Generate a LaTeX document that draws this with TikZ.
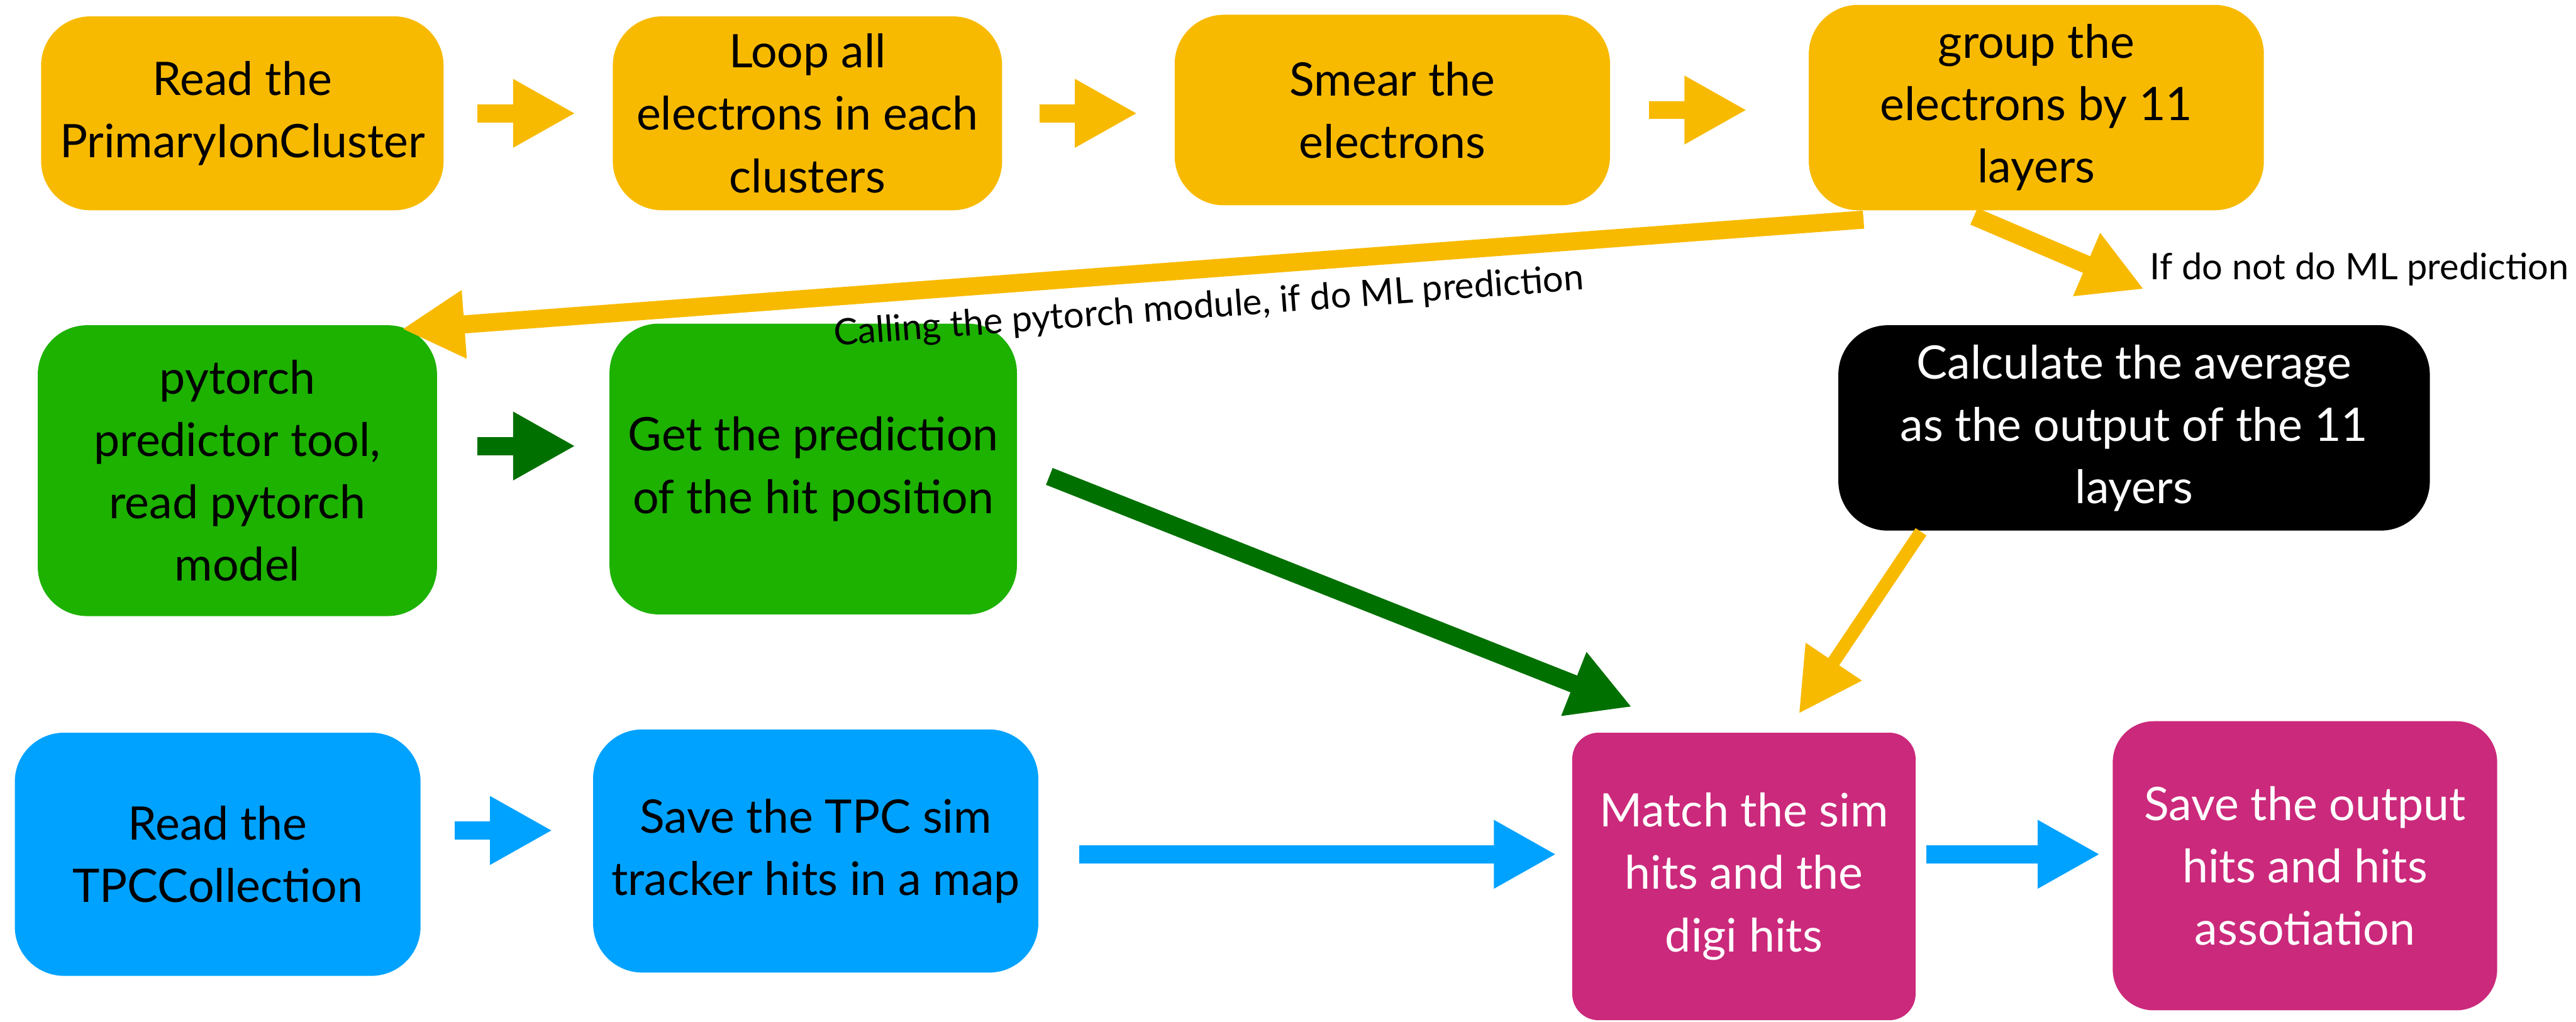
\documentclass[tikz,border=0pt]{standalone}
\usepackage{fontspec}
\setmainfont{Lato}
\usetikzlibrary{arrows.meta}
\definecolor{boxorange}{HTML}{F8BA00}
\definecolor{boxgreen}{HTML}{1DB100}
\definecolor{darkgreen}{HTML}{007000}
\definecolor{boxblue}{HTML}{00A2FF}
\definecolor{boxpink}{HTML}{CB297B}
\begin{document}
\begin{tikzpicture}[
    box/.style={rounded corners=0.3cm, align=center, inner sep=0pt, font=\fontsize{8}{10.8}\selectfont},
    orangebox/.style={box, fill=boxorange},
    greenbox/.style={box, fill=boxgreen},
    bluebox/.style={box, fill=boxblue},
    pinkbox/.style={box, fill=boxpink, text=white},
    blackbox/.style={box, fill=black, text=white},
    blockarrow/.style={line width=0.11cm, -{Triangle[length=0.38cm, width=0.39cm]}},
    orangearrow/.style={blockarrow, draw=boxorange},
    greenarrow/.style={blockarrow, draw=darkgreen},
    bluearrow/.style={blockarrow, draw=boxblue},
    smalltext/.style={inner sep=0pt, font=\fontsize{6.3}{7.5}\selectfont}
]
\useasboundingbox (0,0) rectangle (15.68,6.22);

\node[orangebox, minimum width=2.45cm, minimum height=1.18cm] (readion) at (1.475,5.53) {Read the\\PrimaryIonCluster};
\node[orangebox, minimum width=2.37cm, minimum height=1.18cm] (loop) at (4.915,5.53) {Loop all\\electrons in each\\clusters};
\node[orangebox, minimum width=2.65cm, minimum height=1.16cm] (smear) at (8.475,5.55) {Smear the\\electrons};
\node[orangebox, minimum width=2.77cm, minimum height=1.25cm] (group) at (12.395,5.565) {group the\\electrons by 11\\layers};

\node[greenbox, minimum width=2.43cm, minimum height=1.77cm] (pytorch) at (1.445,3.355) {pytorch\\predictor tool,\\read pytorch\\model};
\node[greenbox, minimum width=2.48cm, minimum height=1.77cm] (getpred) at (4.95,3.365) {Get the prediction\\of the hit position};
\node[blackbox, minimum width=3.60cm, minimum height=1.25cm] (average) at (12.99,3.615) {Calculate the average\\as the output of the 11\\layers};

\node[bluebox, minimum width=2.47cm, minimum height=1.48cm] (readtpc) at (1.325,1.02) {Read the\\TPCCollection};
\node[bluebox, minimum width=2.71cm, minimum height=1.48cm] (savetpc) at (4.965,1.04) {Save the TPC sim\\tracker hits in a map};
\node[pinkbox, rounded corners=0.16cm, minimum width=2.09cm, minimum height=1.75cm] (match) at (10.615,0.885) {Match the sim\\hits and the\\digi hits};
\node[pinkbox, rounded corners=0.25cm, minimum width=2.34cm, minimum height=1.76cm] (saveout) at (14.03,0.95) {Save the output\\hits and hits\\assotiation};

\draw[orangearrow, shorten <=0.2cm, shorten >=0.22cm] (readion.east) -- (readion.east -| loop.west);
\draw[orangearrow, shorten <=0.22cm, shorten >=0.22cm] (loop.east) -- (loop.east -| smear.west);
\draw[orangearrow, shorten <=0.23cm, shorten >=0.37cm] (smear.east) -- (smear.east -| group.west);

\draw[orangearrow] ([xshift=0.34cm,yshift=-0.05cm]group.south west) -- ([xshift=-0.22cm,yshift=-0.03cm]pytorch.north east)
    node[smalltext, pos=0.45, below=0.08cm, sloped] {Calling the pytorch module, if do ML prediction};
\coordinate (nomltip) at (13.05,4.46);
\draw[orangearrow] ([xshift=-0.38cm,yshift=-0.03cm]group.south) -- (nomltip);
\node[smalltext, anchor=base west] (nomllabel) at (13.08,4.52) {If do not do ML prediction};
\draw[orangearrow, line width=0.08cm] ([xshift=0.51cm]average.south west) -- ([xshift=0.335cm,yshift=0.11cm]match.north);

\draw[greenarrow, shorten <=0.24cm, shorten >=0.2cm] ([yshift=0.15cm]pytorch.east) -- ([yshift=0.15cm]pytorch.east -| getpred.west);
\draw[greenarrow] ([xshift=0.19cm,yshift=-0.045cm]getpred.east) -- ([xshift=0.37cm,yshift=0.15cm]match.north west);

\draw[bluearrow, shorten <=0.2cm, shorten >=0.24cm] ([yshift=0.145cm]readtpc.east) -- ([yshift=0.145cm]readtpc.east -| savetpc.west);
\draw[bluearrow, shorten <=0.24cm, shorten >=0.09cm] ([yshift=-0.02cm]savetpc.east) -- ([yshift=-0.02cm]savetpc.east -| match.west);
\draw[bluearrow, shorten <=0.06cm, shorten >=0.07cm] ([yshift=0.135cm]match.east) -- ([yshift=0.135cm]match.east -| saveout.west);
\end{tikzpicture}
\end{document}
